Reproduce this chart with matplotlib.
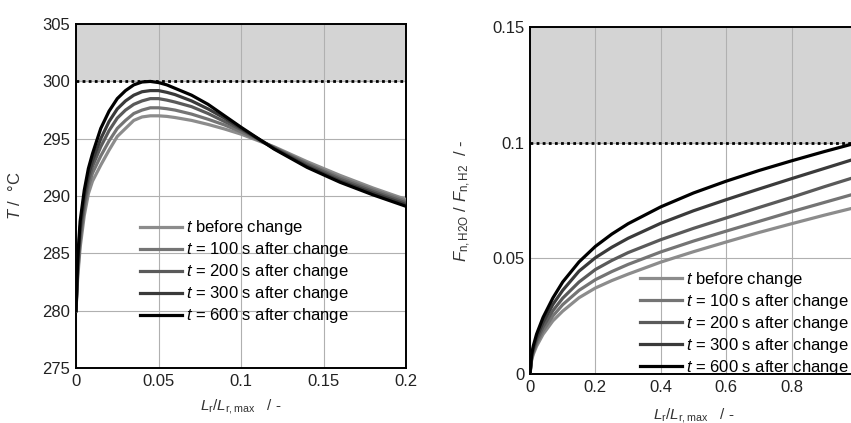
import matplotlib
matplotlib.use("Agg")
import matplotlib.pyplot as plt

plt.rcParams["font.family"] = ["Liberation Sans", "DejaVu Sans"]
plt.rcParams["mathtext.fontset"] = "custom"
plt.rcParams["mathtext.rm"] = "Liberation Sans"
plt.rcParams["mathtext.it"] = "Liberation Sans:italic"

# --- data ---
labels = [
    "$t$ before change",
    "$t$ = 100 s after change",
    "$t$ = 200 s after change",
    "$t$ = 300 s after change",
    "$t$ = 600 s after change",
]
colors = ["#8c8c8c", "#747474", "#5a5a5a", "#3a3a3a", "#000000"]

# left: reactor temperature along the reactor length
pos_T = [0, 0.001, 0.0025, 0.005, 0.0075, 0.01, 0.015, 0.02, 0.025, 0.03,
         0.035, 0.04, 0.045, 0.05, 0.055, 0.06, 0.07, 0.08, 0.09, 0.1,
         0.12, 0.14, 0.16, 0.18, 0.2]
T_before = [280, 282.8, 285.5, 288.3, 290.2, 291.3, 292.7, 294.0, 295.2, 295.9,
            296.6, 296.9, 297.0, 297.0, 296.95, 296.85, 296.6, 296.25, 295.85, 295.4,
            294.3, 293.0, 291.8, 290.7, 289.7]
T_100 = [280, 283.2, 286.0, 288.9, 290.8, 292.0, 293.5, 294.8, 295.9, 296.6,
         297.2, 297.5, 297.7, 297.7, 297.62, 297.5, 297.15, 296.7, 296.2, 295.6,
         294.25, 292.85, 291.6, 290.55, 289.55]
T_200 = [280, 283.6, 286.6, 289.4, 291.3, 292.6, 294.3, 295.7, 296.8, 297.5,
         298.0, 298.3, 298.5, 298.5, 298.37, 298.2, 297.8, 297.2, 296.5, 295.8,
         294.2, 292.75, 291.45, 290.4, 289.4]
T_300 = [280, 284.0, 287.2, 290.0, 291.8, 293.1, 295.0, 296.5, 297.6, 298.3,
         298.8, 299.1, 299.2, 299.2, 299.05, 298.85, 298.3, 297.6, 296.8, 295.9,
         294.15, 292.6, 291.3, 290.25, 289.25]
T_600 = [280, 284.5, 287.8, 290.5, 292.4, 293.7, 295.9, 297.4, 298.5, 299.2,
         299.7, 299.95, 300.0, 299.9, 299.7, 299.4, 298.8, 298.0, 297.0, 296.0,
         294.1, 292.5, 291.2, 290.1, 289.1]

# right: water / hydrogen molar flow ratio along the reactor length
pos_F = [0, 0.005, 0.01, 0.02, 0.04, 0.07, 0.1, 0.15, 0.2, 0.25, 0.3, 0.4,
         0.5, 0.6, 0.7, 0.8, 0.9, 1.0]
F_before = [0, 0.0060, 0.0085, 0.0120, 0.0172, 0.0230, 0.0272, 0.0330, 0.0372,
            0.0404, 0.0432, 0.0484, 0.0529, 0.0571, 0.0612, 0.0650, 0.0687, 0.0722]
F_100 = [0, 0.0065, 0.0093, 0.0131, 0.0187, 0.0251, 0.0300, 0.0362, 0.0408,
         0.0443, 0.0474, 0.0528, 0.0575, 0.0618, 0.0660, 0.0702, 0.0742, 0.0782]
F_200 = [0, 0.0071, 0.0101, 0.0143, 0.0204, 0.0274, 0.0328, 0.0398, 0.0452,
         0.0491, 0.0525, 0.0581, 0.0630, 0.0675, 0.0720, 0.0764, 0.0810, 0.0854]
F_300 = [0, 0.0078, 0.0111, 0.0157, 0.0224, 0.0301, 0.0362, 0.0445, 0.0503,
         0.0548, 0.0587, 0.0652, 0.0706, 0.0754, 0.0800, 0.0845, 0.0889, 0.0933]
F_600 = [0, 0.0085, 0.0121, 0.0172, 0.0245, 0.0329, 0.0398, 0.0485, 0.0552,
         0.0605, 0.0650, 0.0723, 0.0783, 0.0834, 0.0880, 0.0922, 0.0962, 0.1000]

T_limit = 300
F_limit = 0.1

T_xticks = [0, 0.05, 0.1, 0.15, 0.2]
T_xticklabels = ["0", "0.05", "0.1", "0.15", "0.2"]
T_yticks = [275, 280, 285, 290, 295, 300, 305]
F_xticks = [0, 0.2, 0.4, 0.6, 0.8, 1.0]
F_xticklabels = ["0", "0.2", "0.4", "0.6", "0.8", "1"]
F_yticks = [0, 0.05, 0.1, 0.15]
F_yticklabels = ["0", "0.05", "0.1", "0.15"]


def style_axes(ax):
    ax.grid(True, color="#b0b0b0", linewidth=0.8)
    ax.set_axisbelow(True)
    for sp in ax.spines.values():
        sp.set_linewidth(1.4)
        sp.set_color("black")
    ax.tick_params(length=0, labelsize=12, pad=4, colors="#222222")


def add_legend(ax, anchor):
    ax.legend(loc="upper left", bbox_to_anchor=anchor, frameon=False,
              fontsize=12, handlelength=2.5, handletextpad=0.25,
              labelspacing=0.18, borderpad=0, borderaxespad=0)


fig = plt.figure(figsize=(8.51, 4.23), dpi=100)

# --- left panel: temperature ---
ax1 = fig.add_axes([0.0893, 0.130, 0.388, 0.813])
ax1.axhspan(T_limit, 305, color="#d4d4d4", zorder=0)
ax1.axhline(T_limit, color="black", linestyle=(0, (1, 1.2)), linewidth=2, zorder=3)
for y, c, lab in zip([T_before, T_100, T_200, T_300, T_600], colors, labels):
    ax1.plot(pos_T, y, color=c, linewidth=2.3, label=lab, zorder=4)
ax1.set_xlim(0, 0.2)
ax1.set_ylim(275, 305)
ax1.set_xticks(T_xticks)
ax1.set_xticklabels(T_xticklabels)
ax1.set_yticks(T_yticks)
style_axes(ax1)
ax1.set_ylabel("$T$ /  °C", fontsize=12, color="#333333")
ax1.yaxis.set_label_coords(-0.16, 0.5)
ax1.set_xlabel(r"$L_\mathrm{r}/L_\mathrm{r,max}$   / -", fontsize=11,
               color="#333333", labelpad=6)
add_legend(ax1, (0.194, 0.435))

# --- right panel: flow ratio (cut off at the right border) ---
ax2 = fig.add_axes([0.6228, 0.1158, 0.3843, 0.820])
ax2.axhspan(F_limit, 0.15, color="#d4d4d4", zorder=0)
ax2.axhline(F_limit, color="black", linestyle=(0, (1, 1.2)), linewidth=2, zorder=3)
for y, c, lab in zip([F_before, F_100, F_200, F_300, F_600], colors, labels):
    ax2.plot(pos_F, y, color=c, linewidth=2.3, label=lab, zorder=4)
ax2.set_xlim(0, 1.0)
ax2.set_ylim(0, 0.15)
ax2.set_xticks(F_xticks)
ax2.set_xticklabels(F_xticklabels)
ax2.set_yticks(F_yticks)
ax2.set_yticklabels(F_yticklabels)
style_axes(ax2)
ax2.set_ylabel(r"$F_\mathrm{n,H2O}$ / $F_\mathrm{n,H2}$  / -", fontsize=12,
               color="#333333")
ax2.yaxis.set_label_coords(-0.174, 0.5)
ax2.set_xlabel(r"$L_\mathrm{r}/L_\mathrm{r,max}$   / -", fontsize=11,
               color="#333333", labelpad=8)
add_legend(ax2, (0.337, 0.30))

fig.savefig("out.png", dpi=100)
